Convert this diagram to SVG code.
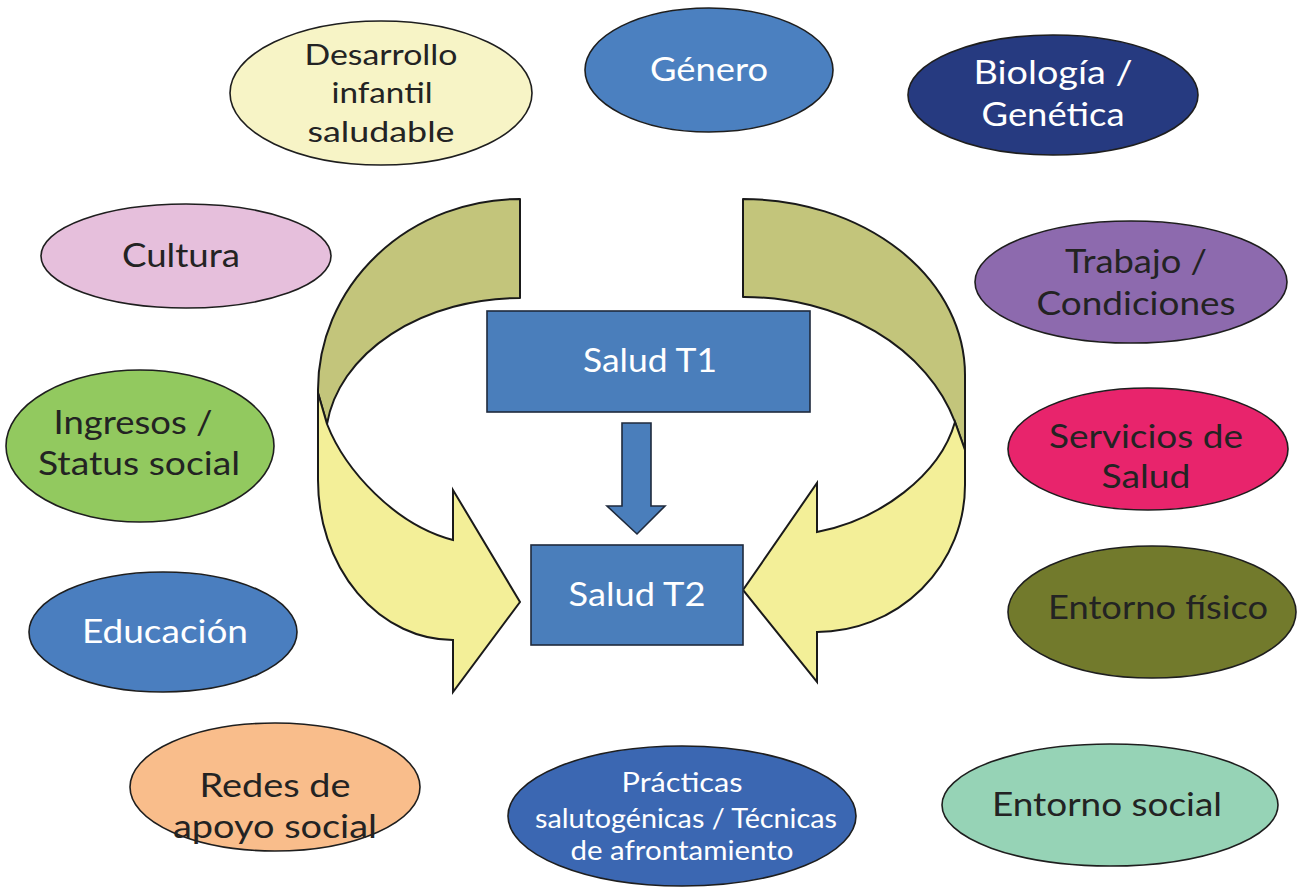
<svg xmlns="http://www.w3.org/2000/svg" width="1303" height="887" viewBox="0 0 1303 887">
  <style>
    .node ellipse, .box { stroke: #1e1e1e; stroke-width: 1.6; }
    .lbl { font-family: Lato, "Open Sans", "Liberation Sans", sans-serif; font-size: 32px; text-anchor: middle; }
    .sm { font-size: 28px; }
    .xs { font-size: 27px; }
    .dark { fill: #232323; }
    .light { fill: #ffffff; }
    .band-back { fill: #c3c57b; stroke: #1a1a1a; stroke-width: 2; stroke-linejoin: round; }
    .band-front { fill: #f3ef98; stroke: #1a1a1a; stroke-width: 2; stroke-linejoin: miter; }
    .box { fill: #4a7ebb; stroke: #1f2a3c; }
  </style>
  <rect width="1303" height="887" fill="#ffffff"/>

  <!-- curved arrows and the T1 to T2 arrow -->
  <g id="connectors">
    <!-- left curved arrow: back band then front band with head -->
    <path class="band-back" d="M520,199 A202,191 0 0 0 318,390 L318,393 L327,424 A195,144 0 0 1 520,298 Z"/>
    <path class="band-front" d="M318,393 L327,424 C345,470 395,525 453,540 L453,490 L520,602 L453,692 L453,640 A135,160 0 0 1 318,480 Z"/>
    <!-- right curved arrow -->
    <path class="band-back" d="M743,199 A222,176 0 0 1 965,375 L965,450 L955,422 A220,175 0 0 0 743,297 Z"/>
    <path class="band-front" d="M955,422 L965,450 L965,485 A148,147 0 0 1 817,632 L817,682 L743,590 L817,483 L817,532 C880,520 940,475 955,422 Z"/>
    <!-- straight arrow between the two boxes -->
    <path class="box" d="M622,423 L651,423 L651,506 L665,506 L637,534 L607,506 L622,506 Z"/>
  </g>

  <g id="salud-t1">
    <rect class="box" x="487" y="311" width="323" height="101"/>
    <text class="lbl light" x="650" y="372" textLength="134" lengthAdjust="spacingAndGlyphs">Salud T1</text>
  </g>
  <g id="salud-t2">
    <rect class="box" x="531" y="545" width="212" height="100"/>
    <text class="lbl light" x="637" y="606" textLength="137" lengthAdjust="spacingAndGlyphs">Salud T2</text>
  </g>

  <g id="desarrollo" class="node">
    <ellipse cx="381" cy="93" rx="151" ry="72" fill="#f7f4c6"/>
    <text class="lbl sm dark" x="381" y="65" textLength="153" lengthAdjust="spacingAndGlyphs">Desarrollo</text>
    <text class="lbl sm dark" x="382" y="103" textLength="101" lengthAdjust="spacingAndGlyphs">infantil</text>
    <text class="lbl sm dark" x="381" y="142" textLength="147" lengthAdjust="spacingAndGlyphs">saludable</text>
  </g>
  <g id="genero" class="node">
    <ellipse cx="709" cy="70" rx="124" ry="62" fill="#4b80c0"/>
    <text class="lbl light" x="709" y="81" textLength="118" lengthAdjust="spacingAndGlyphs">Género</text>
  </g>
  <g id="biologia" class="node">
    <ellipse cx="1053" cy="95" rx="145" ry="60" fill="#263a80"/>
    <text class="lbl light" x="1053" y="84" textLength="159" lengthAdjust="spacingAndGlyphs">Biología /</text>
    <text class="lbl light" x="1053" y="126" textLength="143" lengthAdjust="spacingAndGlyphs">Genética</text>
  </g>
  <g id="cultura" class="node">
    <ellipse cx="186" cy="256" rx="145" ry="52" fill="#e6bfdc"/>
    <text class="lbl dark" x="181" y="267" textLength="118" lengthAdjust="spacingAndGlyphs">Cultura</text>
  </g>
  <g id="trabajo" class="node">
    <ellipse cx="1131" cy="282" rx="156" ry="61" fill="#8d6aae"/>
    <text class="lbl dark" x="1136" y="273" textLength="142" lengthAdjust="spacingAndGlyphs">Trabajo /</text>
    <text class="lbl dark" x="1136" y="315" textLength="199" lengthAdjust="spacingAndGlyphs">Condiciones</text>
  </g>
  <g id="ingresos" class="node">
    <ellipse cx="140" cy="446" rx="134" ry="76" fill="#92c95f"/>
    <text class="lbl dark" x="133" y="434" textLength="159" lengthAdjust="spacingAndGlyphs">Ingresos /</text>
    <text class="lbl dark" x="139" y="475" textLength="202" lengthAdjust="spacingAndGlyphs">Status social</text>
  </g>
  <g id="servicios" class="node">
    <ellipse cx="1148" cy="449" rx="140" ry="61" fill="#e8246c"/>
    <text class="lbl dark" x="1146" y="448" textLength="194" lengthAdjust="spacingAndGlyphs">Servicios de</text>
    <text class="lbl dark" x="1146" y="488" textLength="89" lengthAdjust="spacingAndGlyphs">Salud</text>
  </g>
  <g id="educacion" class="node">
    <ellipse cx="163" cy="632" rx="134" ry="60" fill="#4a7ebf"/>
    <text class="lbl light" x="165" y="643" textLength="166" lengthAdjust="spacingAndGlyphs">Educación</text>
  </g>
  <g id="entorno-fisico" class="node">
    <ellipse cx="1152" cy="612" rx="144" ry="66" fill="#727a2c"/>
    <text class="lbl dark" x="1158" y="619" textLength="220" lengthAdjust="spacingAndGlyphs">Entorno físico</text>
  </g>
  <g id="redes" class="node">
    <ellipse cx="275" cy="787" rx="145" ry="64" fill="#f9bd8b"/>
    <text class="lbl dark" x="275" y="797" textLength="151" lengthAdjust="spacingAndGlyphs">Redes de</text>
    <text class="lbl dark" x="275" y="838" textLength="204" lengthAdjust="spacingAndGlyphs">apoyo social</text>
  </g>
  <g id="practicas" class="node">
    <ellipse cx="682" cy="816" rx="174" ry="70" fill="#3b67b2"/>
    <text class="lbl xs light" x="682" y="792" textLength="121" lengthAdjust="spacingAndGlyphs">Prácticas</text>
    <text class="lbl xs light" x="686" y="828" textLength="302" lengthAdjust="spacingAndGlyphs">salutogénicas / Técnicas</text>
    <text class="lbl xs light" x="682" y="860" textLength="223" lengthAdjust="spacingAndGlyphs">de afrontamiento</text>
  </g>
  <g id="entorno-social" class="node">
    <ellipse cx="1110" cy="805" rx="168" ry="61" fill="#96d3b6"/>
    <text class="lbl dark" x="1107" y="816" textLength="230" lengthAdjust="spacingAndGlyphs">Entorno social</text>
  </g>
</svg>
